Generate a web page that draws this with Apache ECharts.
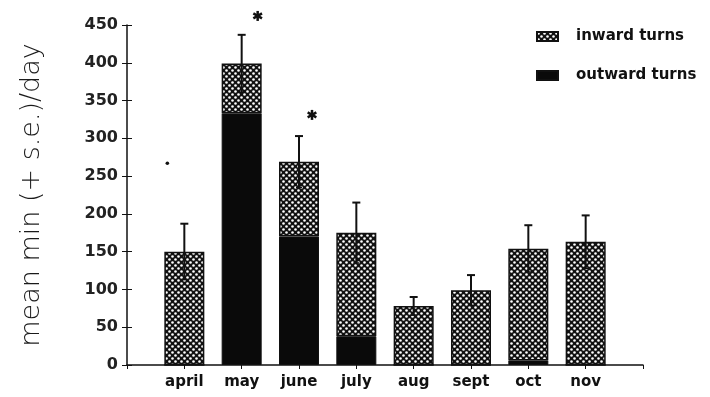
<!DOCTYPE html>
<html>
<head>
<meta charset="utf-8">
<script src="https://cdn.jsdelivr.net/npm/echarts@6/dist/echarts.min.js"></script>
<style>html,body{margin:0;padding:0;background:#fff}#c{width:710px;height:397px}</style>
</head>
<body>
<div id="c"></div>
<script>
// ---- data ----
const categories = ['', 'april', 'may', 'june', 'july', 'aug', 'sept', 'oct', 'nov', ''];
const outwardTurns = [null, 0, 333, 170, 38, 0, 0, 6, 0, null];
const inwardTurns  = [null, 150, 66, 99, 137, 78, 99, 148, 163, null];
const totalMean    = [null, 150, 399, 269, 175, 78, 99, 154, 163, null];
const stdErr       = [null, 37, 38, 34, 40, 12, 20, 31, 35, null];
const sigMarks     = [['april', 267, 'dot'], ['may', 462, 'star'], ['june', 331, 'star']];
const yTicks = [0, 50, 100, 150, 200, 250, 300, 350, 400, 450];

// ---- pattern ----
function makePattern() {
  const c = document.createElement('canvas');
  c.width = 6; c.height = 6;
  const g = c.getContext('2d');
  g.fillStyle = '#111';
  g.fillRect(0, 0, 6, 6);
  g.fillStyle = '#fff';
  [[1.5, 1.5], [4.5, 4.5]].forEach(p => {
    g.beginPath(); g.arc(p[0], p[1], 1.3, 0, Math.PI * 2); g.fill();
  });
  return c;
}
const pat = { image: makePattern(), repeat: 'repeat' };

const chart = echarts.init(document.getElementById('c'), null, { renderer: 'canvas' });
const font = '"DejaVu Sans", sans-serif';
const markDx = { april: -17, may: 16, june: 13 };

chart.setOption({
  animation: false,
  backgroundColor: '#fff',
  grid: { left: 127, right: 67, top: 25, bottom: 32 },
  legend: {
    orient: 'vertical', left: 531, top: 24, itemWidth: 21, itemHeight: 9, itemGap: 24,
    icon: 'rect',
    data: ['inward turns', 'outward turns'],
    textStyle: { fontFamily: font, fontWeight: 'bold', fontSize: 15, color: '#111', padding: [0, 0, 0, 13] }
  },
  xAxis: {
    type: 'category', data: categories, boundaryGap: false,
    axisLine: { lineStyle: { color: '#111', width: 1.5 } },
    axisTick: { length: 4, lineStyle: { color: '#111' } },
    axisLabel: { fontFamily: font, fontWeight: 'bold', fontSize: 15, color: '#111', margin: 10, interval: 0 }
  },
  yAxis: [{
    type: 'value', min: 0, max: 450, interval: 50,
    name: 'mean min (+ s.e.)/day', nameLocation: 'middle', nameGap: 82, nameRotate: 90,
    nameTextStyle: { fontFamily: font, fontSize: 27, fontWeight: 300, color: '#1a1a1a' },
    splitLine: { show: false },
    axisLine: { show: true, lineStyle: { color: '#111', width: 1.5 } },
    axisTick: { show: true, length: 5, lineStyle: { color: '#111' } },
    axisLabel: { fontFamily: font, fontWeight: 'bold', fontSize: 16, color: '#222', margin: 9 }
  }, {
    type: 'value', min: 0, max: 450, interval: 50, position: 'left',
    splitLine: { show: false }, axisLine: { show: false }, axisLabel: { show: false },
    axisTick: { show: true, inside: true, length: 5, lineStyle: { color: '#111' } }
  }],
  series: [
    {
      name: 'outward turns', type: 'bar', stack: 't', barWidth: 40, data: outwardTurns,
      itemStyle: { color: '#0a0a0a', borderColor: '#111', borderWidth: 1 }
    },
    {
      name: 'inward turns', type: 'bar', stack: 't', barWidth: 40, data: inwardTurns,
      itemStyle: { color: pat, borderColor: '#111', borderWidth: 1.5 }
    },
    {
      name: 'err', type: 'custom', z: 10,
      data: totalMean.map((v, i) => v == null ? null : [i, v, stdErr[i]]).filter(d => d),
      renderItem: function (params, api) {
        const x = api.value(0), m = api.value(1), s = api.value(2);
        const hi = api.coord([x, m + s]), lo = api.coord([x, m - s]);
        return {
          type: 'group', children: [
            { type: 'line', shape: { x1: hi[0], y1: hi[1], x2: lo[0], y2: lo[1] }, style: { stroke: '#111', lineWidth: 2 } },
            { type: 'line', shape: { x1: hi[0] - 4, y1: hi[1], x2: hi[0] + 4, y2: hi[1] }, style: { stroke: '#111', lineWidth: 2 } },
            { type: 'line', shape: { x1: lo[0] - 3, y1: lo[1], x2: lo[0] + 3, y2: lo[1] }, style: { stroke: '#111', lineWidth: 1.5 } }
          ]
        };
      }
    },
    {
      name: 'sig', type: 'custom', z: 10, clip: false,
      data: sigMarks.map(d => [categories.indexOf(d[0]), d[1], d[2] === 'dot' ? 0 : 1, d[0]]),
      renderItem: function (params, api) {
        const p = api.coord([api.value(0), api.value(1)]);
        const cat = categories[api.value(0)];
        const cx = p[0] + (markDx[cat] || 0), cy = p[1];
        if (api.value(2) === 0) {
          return { type: 'circle', shape: { cx: cx, cy: cy, r: 1.8 }, style: { fill: '#111' } };
        }
        const ch = [];
        for (let k = 0; k < 3; k++) {
          const a = Math.PI / 2 + k * Math.PI / 3, r = 5;
          ch.push({ type: 'line', shape: { x1: cx - r * Math.cos(a), y1: cy - r * Math.sin(a), x2: cx + r * Math.cos(a), y2: cy + r * Math.sin(a) }, style: { stroke: '#111', lineWidth: 2.5 } });
        }
        return { type: 'group', children: ch };
      }
    }
  ]
});
</script>
</body>
</html>
